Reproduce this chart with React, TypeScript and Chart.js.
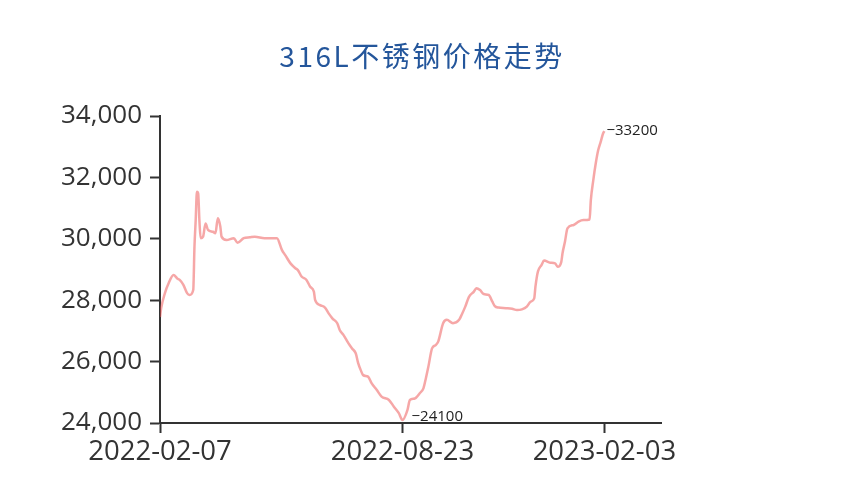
import React, { useEffect, useRef } from "react";
import { Chart, registerables } from "chart.js";

Chart.register(...registerables);

const TITLE = "316L不锈钢价格走势";
// Days since 2022-02-07
const DAY_OFFSETS = [
  0, 1, 4, 7, 11, 14, 16, 19, 22, 24, 27, 28, 29, 30, 31, 32, 33, 35, 37, 39,
  43, 45, 47, 49, 50, 54, 60, 63, 68, 73, 77, 85, 95, 99, 102, 106, 110, 112, 115, 119,
  122, 125, 126, 130, 134, 137, 140, 144, 146, 149, 153, 156, 159, 161, 163, 165, 169, 172, 176, 180,
  186, 190, 194, 197, 201, 203, 207, 211, 214, 216, 218, 221, 224, 226, 230, 233, 238, 243, 245, 248,
  251, 255, 257, 260, 263, 267, 270, 272, 275, 281, 286, 290, 294, 298, 301, 304, 305, 307, 310, 312,
  317, 321, 323, 326, 327, 329, 331, 336, 340, 344, 349, 350, 352, 354, 356, 358, 360, 361,
];
const PRICES = [
  27450, 27750, 28230, 28550, 28820, 28710, 28660, 28500, 28230, 28170, 28330, 29740, 30610, 31530, 31480, 30610, 30020, 30070, 30500, 30290,
  30230, 30180, 30670, 30400, 30070, 29960, 30020, 29870, 30020, 30050, 30070, 30020, 30020, 29640, 29450, 29200, 29040, 28980, 28770, 28660,
  28440, 28280, 28010, 27840, 27760, 27570, 27410, 27250, 27030, 26870, 26600, 26430, 26270, 25950, 25730, 25560, 25510, 25290, 25080, 24860,
  24750, 24530, 24320, 24100, 24420, 24750, 24800, 24970, 25130, 25460, 25830, 26430, 26540, 26650, 27250, 27360, 27250, 27360, 27520, 27790,
  28110, 28280, 28390, 28330, 28200, 28170, 27950, 27810, 27760, 27740, 27720, 27680, 27700, 27790, 27950, 28060, 28440, 28930, 29150, 29290,
  29220, 29200, 29090, 29250, 29530, 29910, 30340, 30450, 30560, 30610, 30630, 31260, 31910, 32460, 32890, 33160, 33440, 33510,
];
const X_TICK_DAYS = [0, 197, 361];
const X_TICK_LABELS = ["2022-02-07", "2022-08-23", "2023-02-03"];
const X_MAX_DAY = 407;
const Y_MIN = 24000;
const Y_MAX = 34000;
const Y_STEP = 2000;
const END_LABEL = "33200";
const MIN_LABEL = "24100";

const titlePlugin = {
  id: "centeredTitle",
  afterDraw(chart: any) {
    const ctx = chart.ctx;
    ctx.save();
    ctx.font = "28px 'Noto Sans CJK SC'";
    (ctx as any).letterSpacing = "2.5px";
    ctx.fillStyle = "#24569b";
    ctx.textAlign = "center";
    ctx.textBaseline = "middle";
    ctx.fillText(TITLE, chart.width / 2 + 1, 56);
    ctx.restore();
  },
};

const markLabels = {
  id: "markLabels",
  afterDatasetsDraw(chart: any) {
    const pts = chart.getDatasetMeta(0).data;
    if (!pts.length) return;
    const ctx = chart.ctx;
    ctx.save();
    ctx.font = "15px 'Open Sans'";
    ctx.fillStyle = "#222";
    ctx.textBaseline = "middle";
    ctx.textAlign = "left";
    const last = pts[pts.length - 1];
    ctx.fillText("\u2212" + END_LABEL, last.x + 2, last.y);
    let mi = 0;
    PRICES.forEach((v, i) => {
      if (v < PRICES[mi]) mi = i;
    });
    const p = pts[mi];
    ctx.fillText("\u2212" + MIN_LABEL, p.x + 9, p.y - 3);
    ctx.restore();
  },
};

export default function App() {
  const ref = useRef<HTMLCanvasElement | null>(null);
  useEffect(() => {
    if (!ref.current) return;
    const chart = new Chart(ref.current, {
      type: "line",
      data: {
        datasets: [
          {
            data: DAY_OFFSETS.map((d, i) => ({ x: d, y: PRICES[i] })),
            borderColor: "rgba(238, 80, 80, 0.5)",
            borderWidth: 2.5,
            pointRadius: 0,
            cubicInterpolationMode: "monotone",
            fill: false,
          },
        ],
      },
      options: {
        responsive: false,
        animation: false,
        layout: { padding: { left: 0, right: 181, top: 116, bottom: 0 } },
        plugins: {
          legend: { display: false },
          tooltip: { enabled: false },
          title: { display: false },
        },
        scales: {
          x: {
            type: "linear",
            min: 0,
            max: X_MAX_DAY,
            grid: { drawOnChartArea: false, tickLength: 10, tickWidth: 2, tickColor: "#333" },
            border: { display: true, color: "#333", width: 2 },
            afterBuildTicks: (s: any) => {
              s.ticks = X_TICK_DAYS.map((v) => ({ value: v }));
            },
            ticks: {
              callback: (_v: any, i: number) => X_TICK_LABELS[i] ?? "",
              font: { family: "'Open Sans'", size: 27.5 },
              color: "#333",
              maxRotation: 0,
              autoSkip: false,
              padding: 3,
            },
            afterFit: (s: any) => {
              s.height = 65;
            },
          },
          y: {
            min: Y_MIN,
            max: Y_MAX,
            grid: { drawOnChartArea: false, tickLength: 10, tickWidth: 2, tickColor: "#333" },
            border: { display: true, color: "#333", width: 2 },
            ticks: {
              stepSize: Y_STEP,
              callback: (v: any) => Number(v).toLocaleString("en-US"),
              font: { family: "'Open Sans'", size: 26 },
              color: "#333",
              padding: 8,
            },
            afterFit: (s: any) => {
              s.width = 160;
            },
          },
        },
      },
      plugins: [markLabels, titlePlugin],
    });
    return () => chart.destroy();
  }, []);
  return (
    <div style={{ position: "absolute", left: 0, top: 0, width: 842, height: 488, background: "#fff" }}>
      <canvas ref={ref} width={842} height={488} style={{ display: "block" }} />
    </div>
  );
}
